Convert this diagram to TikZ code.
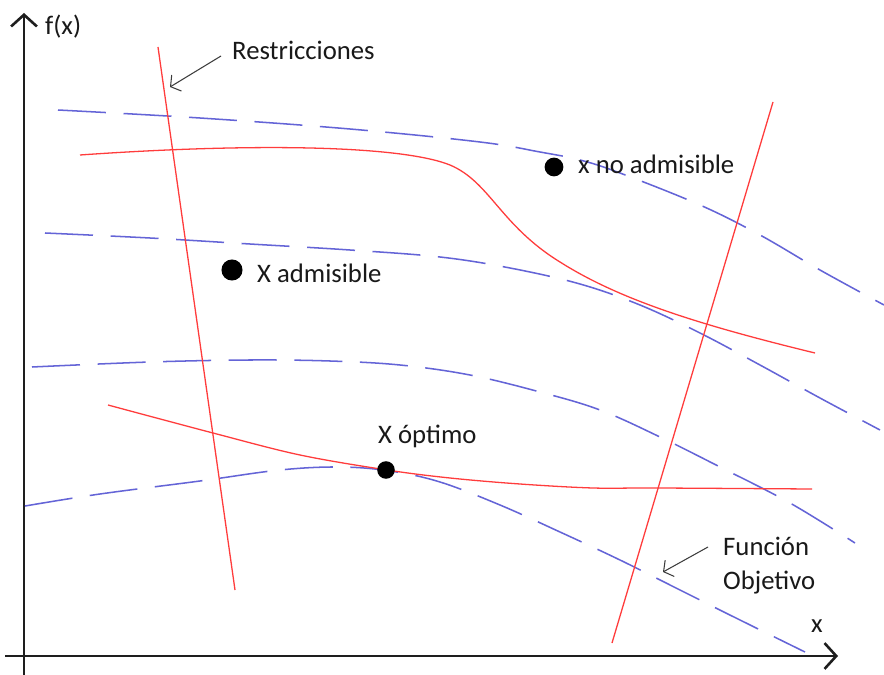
\documentclass[tikz,border=0pt]{standalone}
\usepackage{fontspec}
\setmainfont{Carlito}
\usetikzlibrary{arrows.meta}
\definecolor{restr}{RGB}{255,60,60}
\definecolor{objf}{RGB}{100,100,215}
\definecolor{axisc}{RGB}{30,30,30}
\definecolor{notec}{RGB}{60,60,60}
\definecolor{txt}{RGB}{25,25,25}
\begin{document}
\begin{tikzpicture}[x=0.03cm,y=-0.03cm,
  axisline/.style={draw=axisc,line width=2.4pt,line cap=butt,
    -{Straight Barb[length=10pt,width=22pt,line width=2.2pt]}},
  constraint/.style={draw=restr,line width=1.1pt},
  objective/.style={draw=objf,line width=1.3pt,dash pattern=on 41pt off 15pt},
  notearrow/.style={draw=notec,line width=0.9pt,
    -{Straight Barb[length=6pt,width=16pt,line width=0.9pt]}},
  lbl/.style={inner sep=0pt,anchor=base west,text=txt,
    font=\fontsize{22.8}{27}\selectfont},
  pointdot/.style={circle,fill=black,inner sep=0pt,minimum size=#1}]

\useasboundingbox (0,0) rectangle (884,675);
\fill[white] (0,0) rectangle (884,675);

% axes
\coordinate (yfoot) at (24,675);
\coordinate (ytip) at (24,13);
\coordinate (xfoot) at (5,656);
\coordinate (xtip) at (838,656);
\draw[axisline] (yfoot) -- (ytip);
\draw[axisline] (xfoot) -- (xtip);
\node[lbl] (fx) at (45,35) {f(x)};
\node[lbl] (xl) at (811,632) {x};

% level curves of the objective function
\draw[objective] plot[smooth,tension=0.6] coordinates {
  (58,110) (200,118) (350,129) (480,142) (540,152) (580,160) (620,173)
  (700,205) (760,235) (820,270) (884,305)};
\draw[objective] plot[smooth,tension=0.6] coordinates {
  (45,233) (150,238) (250,244) (350,250) (440,257) (510,268)
  (580,284) (640,305) (700,333) (760,365) (820,398) (880,430)};
\draw[objective] plot[smooth,tension=0.6] coordinates {
  (32,367) (150,362) (250,360) (330,361) (400,365) (470,375)
  (540,392) (600,410) (660,437) (720,467) (790,503) (855,543)};
\draw[objective] plot[smooth,tension=0.6] coordinates {
  (25,506) (100,494) (200,481) (280,470) (340,467) (390,471)
  (440,482) (500,505) (560,532) (620,560) (680,590) (740,620) (805,652)};

% constraints
\draw[constraint] (158,47) -- (235,590);
\draw[constraint] (773,102) -- (612,643);
\draw[constraint] (80,155) .. controls (250,143) and (400,145) .. (450,165)
  .. controls (490,182) and (500,225) .. (560,262)
  .. controls (620,300) and (700,325) .. (815,353);
\draw[constraint] plot[smooth,tension=0.55] coordinates {
  (108,405) (213,433) (300,455) (387,470) (450,478) (520,484)
  (593,488) (657,488) (812,489)};

% points
\node[pointdot=16pt] (noadm) at (554,167) {};
\node[pointdot=18pt] (adm) at (232,270) {};
\node[pointdot=15pt] (opt) at (386,470) {};
\node[lbl] (noadmlbl) at (578,173) {x no admisible};
\node[lbl] (admlbl) at (257,282) {X admisible};
\node[lbl] (optlbl) at (378,443) {X óptimo};

% annotations
\node[lbl] (restlbl) at (232,60) {Restricciones};
\coordinate (resttail) at (221,56);
\coordinate (resttip) at (170,87);
\draw[notearrow] (resttail) -- (resttip);
\node[lbl] (funlbl) at (723,555) {Función};
\node[lbl] (objlbl) at (723,589) {Objetivo};
\coordinate (funtail) at (708,547);
\coordinate (funtip) at (663,572);
\draw[notearrow] (funtail) -- (funtip);
\end{tikzpicture}
\end{document}
